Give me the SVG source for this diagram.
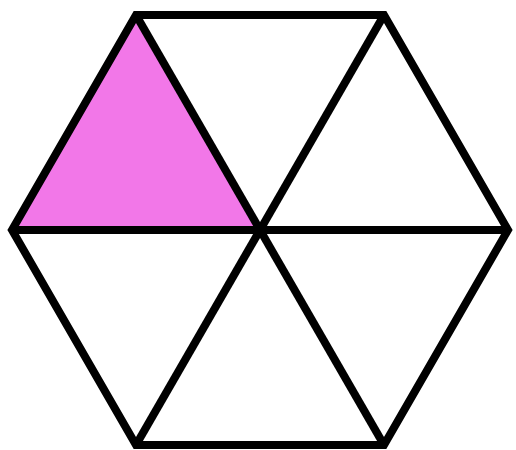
<svg xmlns="http://www.w3.org/2000/svg" width="516" height="450" viewBox="0 0 516 450">
<style>.e{stroke:#000;stroke-width:8;fill:none;stroke-linejoin:miter;stroke-linecap:butt}</style>
<rect width="516" height="450" fill="#fff"/>
<g id="shaded"><polygon points="12,230 136,15 260,230" fill="#F277E8"/></g>
<g id="hexagon"><polygon class="e" points="12,230 136,15 384,15 508,230 384,445 136,445"/></g>
<g id="diagonals">
<line class="e" x1="12" y1="230" x2="508" y2="230"/>
<line class="e" x1="136" y1="15" x2="384" y2="445"/>
<line class="e" x1="384" y1="15" x2="136" y2="445"/>
</g>
</svg>
